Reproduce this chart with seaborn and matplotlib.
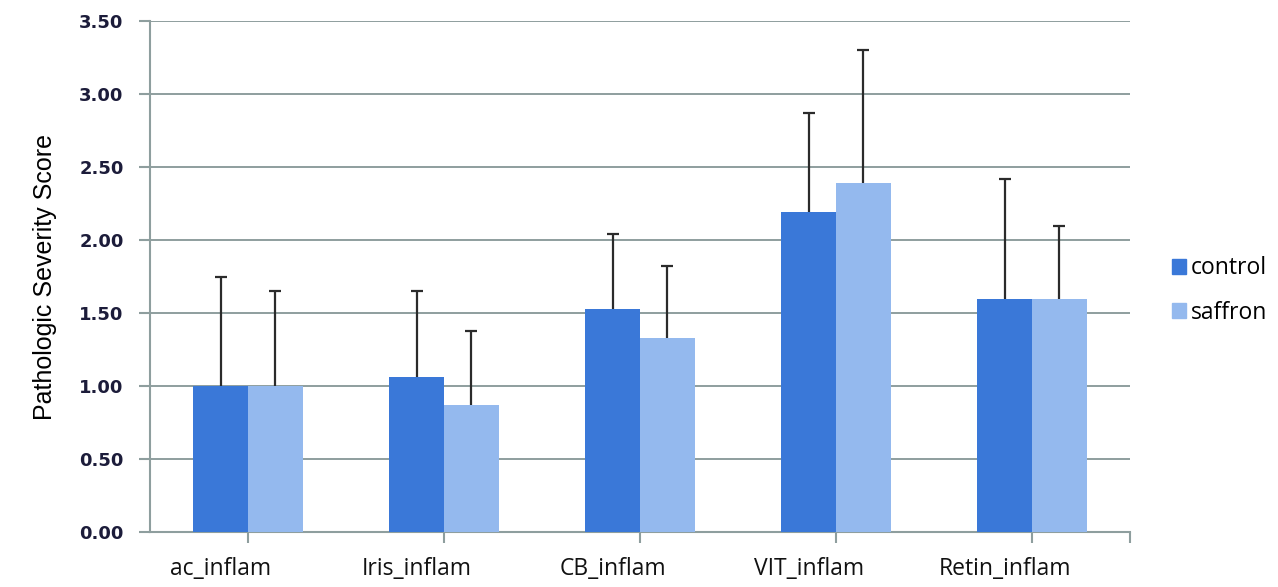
import pandas as pd
import matplotlib.pyplot as plt
import seaborn as sns

# --- Data ---
categories = ["ac_inflam", "Iris_inflam", "CB_inflam", "VIT_inflam", "Retin_inflam"]
control_mean = [1.00, 1.06, 1.53, 2.19, 1.60]
control_sd = [0.75, 0.59, 0.51, 0.68, 0.82]
saffron_mean = [1.00, 0.87, 1.33, 2.39, 1.60]
saffron_sd = [0.65, 0.51, 0.49, 0.91, 0.50]
groups = ["control", "saffron"]
colors = ["#3A78D8", "#94B9EE"]
yticks = [0.0, 0.5, 1.0, 1.5, 2.0, 2.5, 3.0, 3.5]

df = pd.DataFrame({
    "category": categories * 2,
    "group": ["control"] * 5 + ["saffron"] * 5,
    "score": control_mean + saffron_mean,
    "sd": control_sd + saffron_sd,
})

grid_col = "#8E9E9E"

fig = plt.figure(figsize=(12.78, 5.87), dpi=100)
ax = fig.add_axes([0.1174, 0.0937, 0.7668, 0.870])

sns.barplot(data=df, x="category", y="score", hue="group", order=categories,
            hue_order=groups, palette=colors, width=0.56, errorbar=None,
            saturation=1, legend=False, ax=ax, zorder=3)

# --- One-sided error bars (upwards only, no lower cap) ---
for patch, (_, row) in zip(ax.patches, df.iterrows()):
    xc = patch.get_x() + patch.get_width() / 2
    eb = ax.errorbar(xc, row["score"], yerr=[[0], [row["sd"]]], fmt="none",
                     ecolor="#2B2B2B", elinewidth=1.6, capsize=4.5, capthick=1.6,
                     zorder=4)
    eb[1][0].set_visible(False)

ax.set_xlim(-0.5, 4.5)
ax.set_ylim(0, 3.5)
ax.set_yticks(yticks)
ax.set_yticklabels([f"{v:.2f}" for v in yticks], fontsize=13, fontweight="bold",
                   color="#1C1C3A", family="DejaVu Sans")

# tick marks at category centres (plus the axis end), labels sit a bit left of them
ax.set_xticks(list(range(len(categories))) + [4.5])
ax.set_xticklabels([""] * (len(categories) + 1))
ax.set_xticks([i - 0.14 for i in range(len(categories))], minor=True)
ax.set_xticklabels(categories, minor=True, fontsize=16.5, family="Open Sans",
                   color="#111111")
ax.tick_params(axis="x", which="major", direction="out", length=8, width=1.5,
               color=grid_col)
ax.tick_params(axis="x", which="minor", length=0, pad=18)
ax.tick_params(axis="y", direction="out", length=8, width=1.5, color=grid_col, pad=11)

ax.yaxis.grid(True, color=grid_col, linewidth=1.4, zorder=0)
ax.set_axisbelow(True)
for s in ["top", "right"]:
    ax.spines[s].set_visible(False)
for s in ["left", "bottom"]:
    ax.spines[s].set_color(grid_col)
    ax.spines[s].set_linewidth(1.5)

ax.set_xlabel("")
ax.set_ylabel("Pathologic Severity Score", fontsize=18, family="Liberation Sans",
              labelpad=16)

# --- Legend ---
handles = [plt.Rectangle((0, 0), 1, 1, color=c) for c in colors]
fig.legend(handles, groups, loc="center left", bbox_to_anchor=(0.9006, 0.505),
           frameon=False, prop={"family": "Open Sans", "size": 16.5},
           handlelength=0.65, handleheight=0.65, handletextpad=0.2, labelspacing=0.9)

fig.savefig("out.png", dpi=100)
